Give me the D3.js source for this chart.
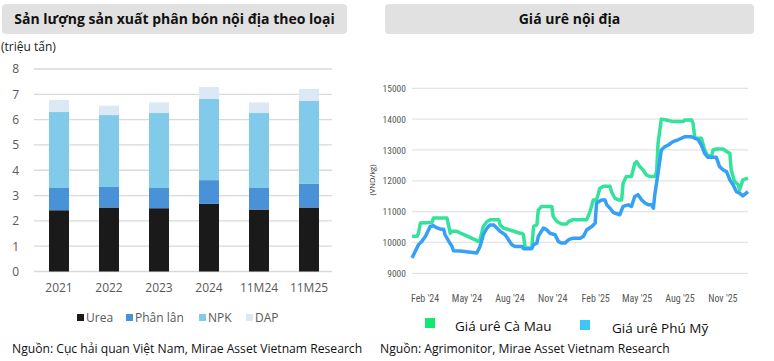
<!DOCTYPE html>
<html><head><meta charset="utf-8">
<script src="https://cdn.jsdelivr.net/npm/d3@7"></script>
<style>body{margin:0;background:#fff}svg{display:block}</style>
</head><body>
<svg id="c" width="774" height="361"></svg>
<script>
// ---------- Left chart data ----------
const categories = ["2021","2022","2023","2024","11M24","11M25"];
const seriesNames = ["Urea","Phân lân","NPK","DAP"];
const urea    = [2.42,2.53,2.50,2.67,2.45,2.53];
const phanLan = [0.88,0.81,0.80,0.94,0.85,0.93];
const npk     = [3.00,2.84,2.96,3.21,2.96,3.28];
const dap     = [0.48,0.37,0.42,0.47,0.42,0.47];
const leftTicks = [0,1,2,3,4,5,6,7,8];

// ---------- Right chart data ----------
const rightTicks = [9000,10000,11000,12000,13000,14000,15000];
const xTickLabels = ["Feb '24","May '24","Aug '24","Nov '24","Feb '25","May '25","Aug '25","Nov '25"];
const xTickDates = ["2024-02-01","2024-05-01","2024-08-01","2024-11-01","2025-02-01","2025-05-01","2025-08-01","2025-11-01"];
const caMauDates = ["2024-01-05","2024-01-16","2024-01-19","2024-01-23","2024-02-17","2024-02-20","2024-03-20","2024-03-24","2024-03-27","2024-03-31","2024-04-10","2024-05-27","2024-05-30","2024-06-06","2024-06-14","2024-06-21","2024-07-09","2024-07-12","2024-07-19","2024-08-24","2024-08-28","2024-08-31","2024-09-04","2024-09-18","2024-09-22","2024-09-29","2024-10-02","2024-10-09","2024-10-31","2024-11-03","2024-11-11","2024-11-21","2024-12-02","2024-12-06","2024-12-16","2025-01-14","2025-01-17","2025-01-21","2025-01-28","2025-02-04","2025-02-11","2025-02-19","2025-03-05","2025-03-08","2025-03-15","2025-03-23","2025-03-30","2025-04-02","2025-04-09","2025-04-20","2025-04-27","2025-05-01","2025-05-08","2025-05-15","2025-05-22","2025-05-29","2025-06-09","2025-06-13","2025-06-16","2025-06-23","2025-07-04","2025-07-18","2025-08-09","2025-08-12","2025-08-27","2025-08-30","2025-09-03","2025-09-17","2025-09-24","2025-10-01","2025-10-09","2025-10-12","2025-10-19","2025-11-03","2025-11-10","2025-11-17","2025-11-20","2025-11-27","2025-12-05","2025-12-08","2025-12-15","2025-12-26"];
const caMauValues = [10200,10200,10300,10630,10650,10790,10790,10520,10300,10360,10360,10035,10090,10520,10680,10740,10740,10570,10470,10300,10300,10250,9820,9820,10520,10570,11050,11170,11170,10845,10680,10600,10600,10680,10740,10740,10845,11000,11380,11380,11760,11820,11820,11650,11440,11380,11380,11920,12140,12140,12570,12620,12460,12350,12190,12140,12140,12300,13220,14000,13970,13920,13920,13970,13970,13870,13380,13380,13000,12810,12810,13000,13030,13030,12950,12890,12350,11980,11870,11710,12030,12090];
const phuMyDates = ["2024-01-05","2024-01-12","2024-01-19","2024-01-26","2024-02-03","2024-02-13","2024-02-20","2024-02-28","2024-03-06","2024-03-13","2024-03-16","2024-03-24","2024-03-31","2024-04-03","2024-04-18","2024-05-23","2024-05-30","2024-06-06","2024-06-14","2024-06-21","2024-06-28","2024-07-05","2024-07-12","2024-07-23","2024-07-30","2024-08-06","2024-08-13","2024-08-28","2024-08-31","2024-09-18","2024-09-22","2024-09-29","2024-10-02","2024-10-13","2024-10-20","2024-10-27","2024-11-07","2024-11-14","2024-11-21","2024-11-28","2024-12-06","2024-12-16","2024-12-31","2025-01-07","2025-01-14","2025-01-25","2025-02-01","2025-02-04","2025-02-15","2025-02-22","2025-02-26","2025-03-05","2025-03-12","2025-03-26","2025-04-02","2025-04-13","2025-04-20","2025-04-27","2025-05-04","2025-05-12","2025-05-19","2025-05-26","2025-06-02","2025-06-06","2025-06-09","2025-06-16","2025-06-23","2025-07-01","2025-07-08","2025-07-18","2025-07-29","2025-08-05","2025-08-12","2025-08-27","2025-09-03","2025-09-10","2025-09-17","2025-09-24","2025-10-01","2025-10-19","2025-10-26","2025-11-03","2025-11-10","2025-11-17","2025-11-24","2025-12-01","2025-12-08","2025-12-15","2025-12-26"];
const phuMyValues = [9500,9710,9930,10035,10200,10520,10540,10470,10430,10430,10250,10035,9870,9730,9720,9660,9870,10250,10470,10570,10570,10470,10360,10250,10090,9930,9870,9870,9800,9800,9930,9980,10200,10470,10410,10300,10250,10035,9980,9980,10090,10140,10140,10200,10410,10520,10630,11280,11380,11380,11220,11110,10970,10900,11170,11220,11170,11490,11550,11380,11280,11220,11220,11110,11550,12250,13000,13110,13160,13270,13330,13380,13430,13430,13380,13330,13160,12890,12760,12760,12460,12350,12300,12030,11870,11650,11600,11510,11650];
const lineNames = ["Giá urê Cà Mau","Giá urê Phú Mỹ"];

const svg = d3.select("#c");
const FONT = "'Open Sans','Noto Sans',sans-serif";
const NARROW = "'Liberation Sans Narrow','Arial Narrow','Roboto Condensed','Liberation Sans',sans-serif";

// ---------- Title boxes ----------
function titleBox(x, w, text) {
  svg.append("rect").attr("x", x).attr("y", 4).attr("width", w).attr("height", 30)
    .attr("rx", 4).attr("fill", "#e1e1e1");
  svg.append("text").attr("x", x + w/2).attr("y", 24).attr("text-anchor", "middle")
    .attr("font-family", FONT).attr("font-weight", "bold").attr("font-size", 14)
    .attr("fill", "#111").text(text);
}
titleBox(2, 345, "Sản lượng sản xuất phân bón nội địa theo loại");
titleBox(385, 369, "Giá urê nội địa");

// ---------- Left chart ----------
svg.append("text").attr("x", 1).attr("y", 51).attr("font-family", FONT)
  .attr("font-size", 12).attr("fill", "#222").text("(triệu tấn)");

const yL = d3.scaleLinear().domain([0, 8]).range([271.5, 69]);
const xL = d3.scaleBand().domain(categories).range([34, 334]).paddingInner(0.6).paddingOuter(0.3);
const colors = ["#1a1a1a", "#4a92d8", "#82caea", "#dbe8f6"];

const gGrid = svg.append("g");
gGrid.selectAll("line").data(leftTicks).join("line")
  .attr("x1", 34).attr("x2", 332).attr("y1", d => yL(d)).attr("y2", d => yL(d))
  .attr("stroke", "#d9d9d9").attr("stroke-width", 1.3);

const yAxisL = d3.axisLeft(yL).tickValues(leftTicks).tickSize(0).tickPadding(0);
const gyL = svg.append("g").attr("transform", "translate(19,0)").call(yAxisL);
gyL.select(".domain").remove();
gyL.selectAll("text").attr("font-family", FONT).attr("font-size", 12).attr("fill", "#595959");

const table = categories.map((c, i) => ({cat: c, Urea: urea[i], "Phân lân": phanLan[i], NPK: npk[i], DAP: dap[i]}));
const stacked = d3.stack().keys(seriesNames)(table);
svg.append("g").selectAll("g").data(stacked).join("g")
  .attr("fill", (d, i) => colors[i])
  .selectAll("rect").data(d => d).join("rect")
  .attr("x", d => xL(d.data.cat)).attr("width", xL.bandwidth())
  .attr("y", d => yL(d[1])).attr("height", d => yL(d[0]) - yL(d[1]));

const xAxisL = d3.axisBottom(xL).tickSize(0).tickPadding(0);
const gxL = svg.append("g").attr("transform", "translate(0,283)").call(xAxisL);
gxL.select(".domain").remove();
gxL.selectAll("text").attr("font-family", FONT).attr("font-size", 12).attr("fill", "#595959");

// left legend
const legX = [77, 126, 199, 246];
seriesNames.forEach((n, i) => {
  svg.append("rect").attr("x", legX[i]).attr("y", 314).attr("width", 7).attr("height", 7).attr("fill", colors[i]);
  svg.append("text").attr("x", legX[i] + 9).attr("y", 322).attr("font-family", FONT)
    .attr("font-size", 12).attr("fill", "#595959").text(n);
});
svg.append("text").attr("x", 12).attr("y", 353).attr("font-family", FONT).attr("font-size", 12.15)
  .attr("fill", "#111").text("Nguồn: Cục hải quan Việt Nam, Mirae Asset Vietnam Research");

// ---------- Right chart ----------
const parse = d3.timeParse("%Y-%m-%d");
const xR = d3.scaleTime().domain([parse("2024-01-05"), parse("2025-12-26")]).range([412, 748]);
const yR = d3.scaleLinear().domain([9000, 15000]).range([273.3, 88.3]);

svg.append("g").selectAll("line").data(rightTicks).join("line")
  .attr("x1", 412).attr("x2", 748).attr("y1", d => yR(d)).attr("y2", d => yR(d))
  .attr("stroke", "#e3e3e3").attr("stroke-width", 1.3);

const gyR = svg.append("g").attr("transform", "translate(406,0)")
  .call(d3.axisLeft(yR).tickValues(rightTicks).tickSize(0).tickPadding(0).tickFormat(d3.format("d")));
gyR.select(".domain").remove();
gyR.selectAll("text").attr("font-family", NARROW).attr("font-size", 9.5).attr("fill", "#595959");

svg.append("text").attr("transform", "translate(375,180) rotate(-90)").attr("text-anchor", "middle")
  .attr("font-family", FONT).attr("font-size", 7.5).attr("fill", "#333").text("(VND/kg)");

const gxR = svg.append("g").attr("transform", "translate(0,295)")
  .call(d3.axisBottom(xR).tickValues(xTickDates.map(parse)).tickSize(0).tickPadding(0)
    .tickFormat((d, i) => xTickLabels[i]));
gxR.select(".domain").remove();
gxR.selectAll("text").attr("font-family", NARROW).attr("font-size", 10).attr("fill", "#595959");

const line = d3.line().x(d => xR(d[0])).y(d => yR(d[1]));
const caMau = caMauDates.map((d, i) => [parse(d), caMauValues[i]]);
const phuMy = phuMyDates.map((d, i) => [parse(d), phuMyValues[i]]);
svg.append("path").datum(caMau).attr("d", line).attr("fill", "none")
  .attr("stroke", "#33e39b").attr("stroke-width", 3.5).attr("stroke-linejoin", "round");
svg.append("path").datum(phuMy).attr("d", line).attr("fill", "none")
  .attr("stroke", "#36a0f7").attr("stroke-width", 3.5).attr("stroke-linejoin", "round");

// right legend
const legR = [{x: 425, y: 318, tx: 455, ty: 331, c: "#14e86e"}, {x: 580, y: 320, tx: 612, ty: 333, c: "#3ec6f8"}];
lineNames.forEach((n, i) => {
  const L = legR[i];
  svg.append("rect").attr("x", L.x).attr("y", L.y).attr("width", 10).attr("height", 10).attr("fill", L.c);
  svg.append("text").attr("x", L.tx).attr("y", L.ty).attr("font-family", FONT).attr("font-size", 13.5)
    .attr("fill", "#111").text(n);
});
svg.append("text").attr("x", 380).attr("y", 353).attr("font-family", FONT).attr("font-size", 12.15)
  .attr("fill", "#111").text("Nguồn: Agrimonitor, Mirae Asset Vietnam Research");
</script>
</body></html>
